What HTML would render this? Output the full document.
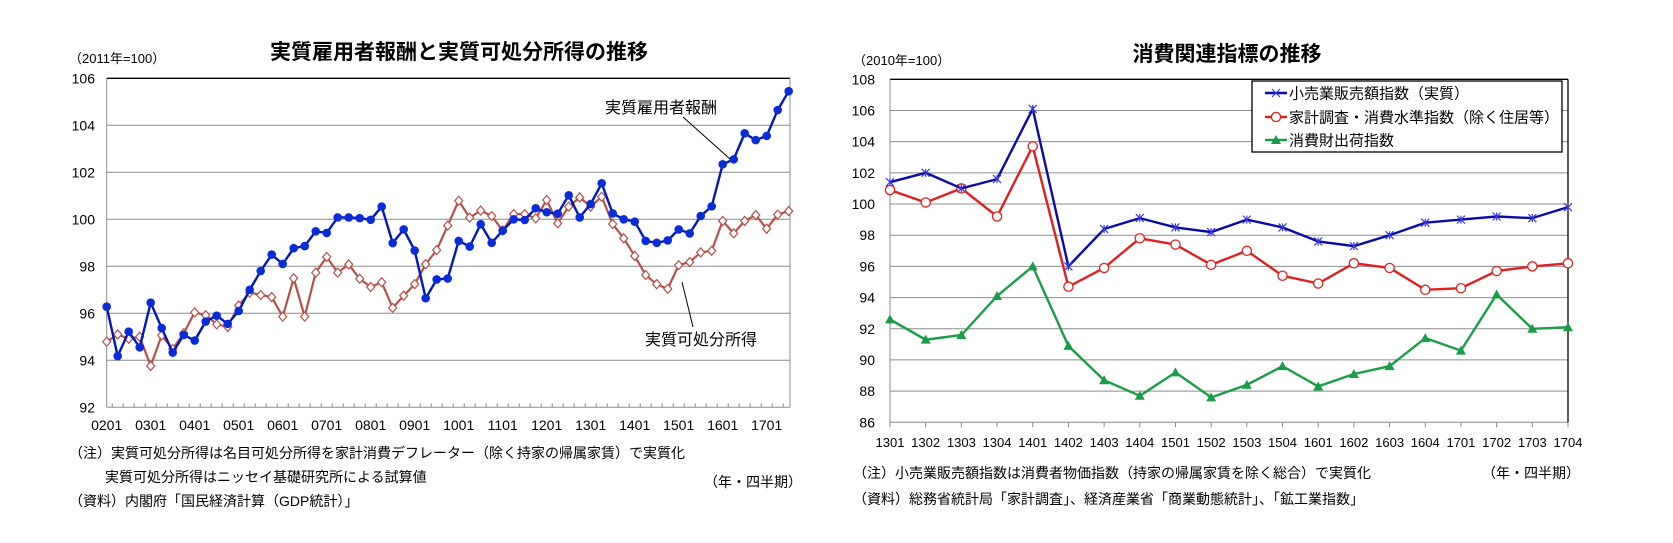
<!DOCTYPE html>
<html><head><meta charset="utf-8">
<style>
html,body{margin:0;padding:0;background:#fff;}
svg{display:block;font-family:"Liberation Sans","Noto Sans CJK JP",sans-serif;}
</style></head>
<body>
<svg id="c" width="1673" height="543" viewBox="0 0 1673 543" xmlns="http://www.w3.org/2000/svg">
<rect width="1673" height="543" fill="#fff"/>
<g id="L"></g>
<g id="R"></g>
</svg>
<script>
// ---- Left chart data (quarters 0201..1703) ----
const leftYearLabels = ["0201","0301","0401","0501","0601","0701","0801","0901","1001","1101","1201","1301","1401","1501","1601","1701"];
const leftYTicks = [92,94,96,98,100,102,104,106];
const compensation = [96.28,94.18,95.22,94.55,96.45,95.37,94.33,95.08,94.84,95.65,95.9,95.55,96.1,97.0,97.8,98.5,98.1,98.77,98.86,99.49,99.42,100.08,100.08,100.05,99.98,100.54,98.99,99.57,98.67,96.64,97.44,97.48,99.08,98.84,99.79,99.0,99.52,100.0,99.97,100.47,100.3,100.24,101.02,100.08,100.65,101.53,100.25,100.0,99.9,99.08,99.0,99.1,99.57,99.4,100.14,100.55,102.34,102.55,103.66,103.37,103.55,104.65,105.45];
const disposable = [94.79,95.1,94.92,95.0,93.76,95.06,94.48,95.15,96.04,95.92,95.53,95.42,96.33,96.88,96.78,96.69,95.86,97.49,95.86,97.73,98.4,97.73,98.08,97.47,97.12,97.32,96.23,96.75,97.24,98.09,98.69,99.73,100.79,100.07,100.37,100.14,99.52,100.22,100.22,100.04,100.82,99.83,100.54,100.93,100.54,100.96,99.8,99.19,98.44,97.63,97.24,97.04,98.05,98.18,98.59,98.66,99.93,99.4,99.93,100.18,99.6,100.2,100.35];

// ---- Right chart data (1301..1704) ----
const rightCats = ["1301","1302","1303","1304","1401","1402","1403","1404","1501","1502","1503","1504","1601","1602","1603","1604","1701","1702","1703","1704"];
const rightYTicks = [86,88,90,92,94,96,98,100,102,104,106,108];
const retailSales = [101.4,102.0,101.0,101.6,106.1,96.0,98.4,99.1,98.5,98.2,99.0,98.5,97.6,97.3,98.0,98.8,99.0,99.2,99.1,99.8];
const householdSurvey = [100.9,100.1,101.0,99.2,103.7,94.7,95.9,97.8,97.4,96.1,97.0,95.4,94.9,96.2,95.9,94.5,94.6,95.7,96.0,96.2];
const consumerShipments = [92.6,91.3,91.6,94.1,96.0,90.9,88.7,87.7,89.2,87.6,88.4,89.6,88.3,89.1,89.6,91.4,90.6,94.2,92.0,92.1];

const NS="http://www.w3.org/2000/svg";
function mk(parent,tag,attrs,text){const e=document.createElementNS(NS,tag);for(const k in attrs)e.setAttribute(k,attrs[k]);if(text!==undefined)e.textContent=text;parent.appendChild(e);return e;}

// ===== LEFT =====
const L=document.getElementById('L');
const lx0=106.7, ldx=11, lTop=78.3, lBot=407.3, lRight=790;
const lxs=i=>lx0+i*ldx;
const lys=v=>lBot-(v-92)*(lBot-lTop)/14;
leftYTicks.forEach(v=>{
  const g=mk(L,'line',{x1:lx0,x2:lRight,y1:lys(v),y2:lys(v),stroke:v===106?'#000':'#8c8c8c','stroke-width':v===106?1.3:1});
  
  
  const t=mk(L,'text',{x:95,y:lys(v)+5,'text-anchor':'end','font-size':14,fill:'#000'},String(v));
  
  
});
mk(L,'line',{x1:lx0,x2:lx0,y1:lTop,y2:lBot,stroke:'#8c8c8c'});
mk(L,'line',{x1:lRight,x2:lRight,y1:lTop,y2:lBot,stroke:'#8c8c8c'});
for(let i=0;i<=63;i++){const tx=lxs(i)+5.5; if(tx>=lRight) break; mk(L,'line',{x1:tx,x2:tx,y1:lBot,y2:lBot-4,stroke:'#8c8c8c'});}
leftYearLabels.forEach((s,k)=>{
  const t=mk(L,'text',{x:lxs(k*4),y:430,'text-anchor':'middle','font-size':14},s);
  
  
});
function lpath(arr){return arr.map((v,i)=>(i?'L':'M')+lxs(i).toFixed(1)+','+lys(v).toFixed(1)).join('');}
const pd=mk(L,'path',{d:lpath(disposable),fill:'none',stroke:'#b5504b','stroke-width':2.2});


disposable.forEach((v,i)=>{
  const x=lxs(i),y=lys(v);
  const m=mk(L,'path',{d:`M${x},${y-4.5}L${x+4},${y}L${x},${y+4.5}L${x-4},${y}Z`,fill:'#fff',stroke:'#b5504b','stroke-width':1.2});
  
  
});
const pc=mk(L,'path',{d:lpath(compensation),fill:'none',stroke:'#0018b8','stroke-width':2.4});


compensation.forEach((v,i)=>{
  const m=mk(L,'circle',{cx:lxs(i),cy:lys(v),r:4.3,fill:'#0a2bd8'});
  
  
});
// annotations
mk(L,'line',{x1:683,y1:117,x2:730,y2:159,stroke:'#000','stroke-width':1});
mk(L,'line',{x1:682,y1:282,x2:693,y2:327,stroke:'#000','stroke-width':1});
let t;
t=mk(L,'text',{x:605,y:113,'font-size':16},'実質雇用者報酬');
t=mk(L,'text',{x:645,y:345,'font-size':16},'実質可処分所得');
t=mk(L,'text',{x:69,y:63,'font-size':13},'（2011年=100）');
t=mk(L,'text',{x:459,y:59,'font-size':21,'font-weight':'bold','text-anchor':'middle'},'実質雇用者報酬と実質可処分所得の推移');
t=mk(L,'text',{x:69,y:458,'font-size':14},'（注）実質可処分所得は名目可処分所得を家計消費デフレーター（除く持家の帰属家賃）で実質化');
t=mk(L,'text',{x:105,y:482,'font-size':14},'実質可処分所得はニッセイ基礎研究所による試算値');
t=mk(L,'text',{x:69,y:506,'font-size':14},'（資料）内閣府「国民経済計算（GDP統計）」');
t=mk(L,'text',{x:802,y:487,'font-size':14,'text-anchor':'end'},'（年・四半期）');

// ===== RIGHT =====
const R=document.getElementById('R');
const rx0=890, rx1=1568, rTop=79.3, rBot=422.3;
const rxs=i=>rx0+i*(rx1-rx0)/(rightCats.length-1);
const rys=v=>rBot-(v-86)*(rBot-rTop)/22;
rightYTicks.forEach(v=>{
  const g=mk(R,'line',{x1:rx0,x2:rx1,y1:rys(v),y2:rys(v),stroke:v===108?'#000':'#8c8c8c','stroke-width':v===108?1.3:1});
  
  
  const tt=mk(R,'text',{x:875,y:rys(v)+5,'text-anchor':'end','font-size':14},String(v));
  
  
});
mk(R,'line',{x1:rx0,x2:rx0,y1:rTop,y2:rBot,stroke:'#8c8c8c'});
mk(R,'line',{x1:rx1,x2:rx1,y1:rTop,y2:rBot,stroke:'#000','stroke-width':1.3});
rightCats.forEach((s,i)=>{
  mk(R,'line',{x1:rxs(i),x2:rxs(i),y1:rBot,y2:rBot+5,stroke:'#8c8c8c'});
  const tt=mk(R,'text',{x:rxs(i),y:447,'text-anchor':'middle','font-size':13,'textLength':29,'lengthAdjust':'spacingAndGlyphs'},s);
  
  
});
function rpath(arr){return arr.map((v,i)=>(i?'L':'M')+rxs(i).toFixed(1)+','+rys(v).toFixed(1)).join('');}
let p;
p=mk(R,'path',{d:rpath(consumerShipments),fill:'none',stroke:'#1a9c48','stroke-width':2.4});

consumerShipments.forEach((v,i)=>{const x=rxs(i),y=rys(v);
  const m=mk(R,'path',{d:`M${x},${y-5}L${x+5},${y+4}L${x-5},${y+4}Z`,fill:'#1a9c48'});
  });
p=mk(R,'path',{d:rpath(householdSurvey),fill:'none',stroke:'#e02020','stroke-width':2.4});

householdSurvey.forEach((v,i)=>{
  const m=mk(R,'circle',{cx:rxs(i),cy:rys(v),r:4.6,fill:'#fff',stroke:'#e02020','stroke-width':1.3});
  });
p=mk(R,'path',{d:rpath(retailSales),fill:'none',stroke:'#0a0aa8','stroke-width':2.4});

retailSales.forEach((v,i)=>{const x=rxs(i),y=rys(v);
  const m=mk(R,'path',{d:`M${x-4},${y-4}L${x+4},${y+4}M${x-4},${y+4}L${x+4},${y-4}M${x},${y-4}L${x},${y+4}`,stroke:'#3a3ae0','stroke-width':1.2,fill:'none'});
  });
// legend
const lg=mk(R,'g',{});

mk(lg,'rect',{x:1252,y:81,width:310,height:71,fill:'#fff',stroke:'#000','stroke-width':1.3});
const ly=[93,117,140];
mk(lg,'line',{x1:1265,x2:1287,y1:ly[0],y2:ly[0],stroke:'#0a0aa8','stroke-width':2.4});
mk(lg,'path',{d:`M1272,${ly[0]-4}L1280,${ly[0]+4}M1272,${ly[0]+4}L1280,${ly[0]-4}`,stroke:'#3a3ae0','stroke-width':1.2});
mk(lg,'line',{x1:1265,x2:1287,y1:ly[1],y2:ly[1],stroke:'#e02020','stroke-width':2.4});
mk(lg,'circle',{cx:1276,cy:ly[1],r:4.6,fill:'#fff',stroke:'#e02020','stroke-width':1.3});
mk(lg,'line',{x1:1265,x2:1287,y1:ly[2],y2:ly[2],stroke:'#1a9c48','stroke-width':2.4});
mk(lg,'path',{d:`M1276,${ly[2]-5}L1281,${ly[2]+4}L1271,${ly[2]+4}Z`,fill:'#1a9c48'});
const names=['小売業販売額指数（実質）','家計調査・消費水準指数（除く住居等）','消費財出荷指数'];
names.forEach((n,k)=>{const tt=mk(lg,'text',{x:1289,y:ly[k]+5.5,'font-size':15},n);
  });
t=mk(R,'text',{x:853,y:65,'font-size':13},'（2010年=100）');
t=mk(R,'text',{x:1227,y:61,'font-size':21,'font-weight':'bold','text-anchor':'middle'},'消費関連指標の推移');
t=mk(R,'text',{x:853,y:478,'font-size':14},'（注）小売業販売額指数は消費者物価指数（持家の帰属家賃を除く総合）で実質化');
t=mk(R,'text',{x:853,y:504,'font-size':14},'（資料）総務省統計局「家計調査」、経済産業省「商業動態統計」、「鉱工業指数」');
t=mk(R,'text',{x:1580,y:478,'font-size':14,'text-anchor':'end'},'（年・四半期）');
</script>
</body></html>
